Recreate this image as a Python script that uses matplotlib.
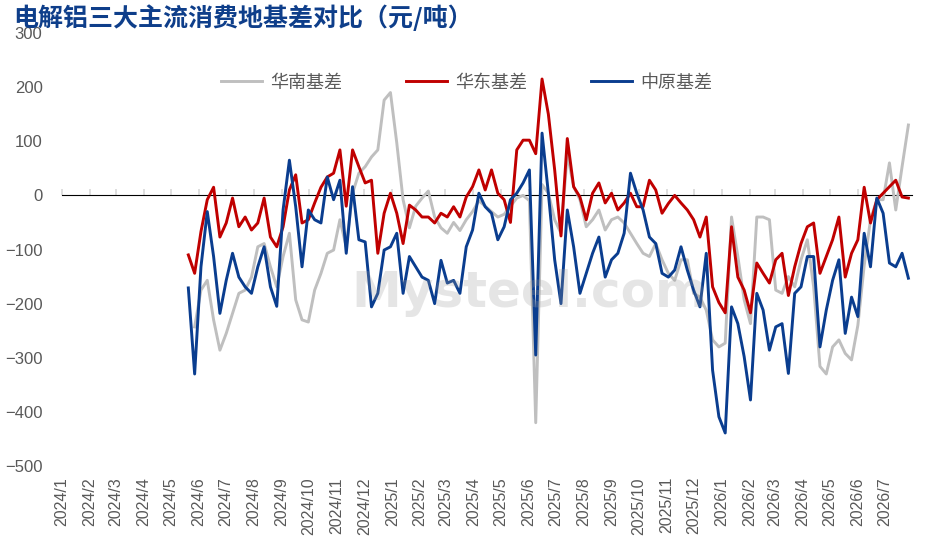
import numpy as np
import pandas as pd
import matplotlib
matplotlib.use("Agg")
import matplotlib.pyplot as plt
import matplotlib.dates as mdates
from matplotlib.ticker import FuncFormatter, MultipleLocator, NullFormatter

plt.rcParams['font.family'] = ['Noto Sans CJK SC', 'DejaVu Sans']

# weekly readings, starting late May 2024
dates = pd.date_range('2024-05-20', periods=115, freq='7D')

south = [np.nan, -243, -175, -157, -230, -286, -255, -218, -181, -175,
         -151, -95, -89, -132, -169, -113, -70, -193, -230, -234,
         -175, -144, -107, -101, -45, -95, 4, 41, 53, 71,
         84, 176, 190, 97, -8, -60, -20, -5, 8, -40,
         -60, -70, -50, -65, -45, -30, -10, -20, -30, -40,
         -35, -20, -5, 0, -10, -420, 20, 4, -45, -70,
         77, 16, -8, -58, -45, -27, -64, -45, -40, -51,
         -70, -89, -107, -113, -89, -119, -144, -157, -119, -119,
         -181, -188, -212, -267, -280, -273, -40, -113, -193, -237,
         -40, -40, -45, -175, -181, -150, -169, -119, -82, -169,
         -316, -330, -280, -267, -292, -304, -240, -130, -45, -8,
         -8, 60, -27, 53, 130]

east = [-110, -144, -67, -8, 15, -77, -51, -5, -58, -40,
        -64, -51, -5, -77, -95, -58, 10, 38, -51, -45,
        -14, 15, 34, 41, 84, -20, 84, 53, 23, 28,
        -107, -33, 4, -33, -89, -18, -27, -40, -40, -51,
        -33, -40, -21, -40, -3, 16, 47, 10, 47, 4,
        -8, -50, 84, 102, 102, 77, 215, 150, 47, -75,
        105, 16, -3, -45, 4, 23, -14, 4, -27, -14,
        4, -21, -21, 28, 10, -33, -15, 0, -14, -27,
        -45, -77, -40, -169, -198, -217, -58, -151, -175, -217,
        -125, -144, -162, -119, -107, -185, -132, -89, -58, -51,
        -144, -113, -82, -40, -151, -107, -82, 15, -51, -8,
        4, 16, 28, -3, -5]

central = [-171, -330, -132, -30, -113, -218, -157, -107, -151, -169,
           -181, -132, -95, -169, -205, -27, 65, -21, -132, -27,
           -45, -51, 34, -8, 28, -107, 16, -82, -86, -206,
           -181, -101, -95, -70, -181, -113, -132, -151, -157, -200,
           -120, -162, -157, -181, -95, -64, 4, -21, -33, -82,
           -58, -8, 4, 23, 47, -295, 115, 4, -119, -200,
           -27, -95, -181, -144, -107, -77, -151, -119, -107, -70,
           41, 4, -27, -77, -89, -144, -151, -138, -95, -138,
           -175, -206, -107, -323, -409, -439, -206, -237, -298, -378,
           -181, -212, -286, -243, -237, -329, -181, -169, -113, -113,
           -280, -212, -157, -119, -255, -188, -224, -70, -132, -5,
           -33, -125, -132, -107, -153]

labels = ['华南基差', '华东基差', '中原基差']
colors = ['#BFBFBF', '#C00000', '#0A3D8F']

fig = plt.figure(figsize=(9.41, 5.46), dpi=100)
ax = fig.add_axes([62 / 941, 1 - 466 / 546, 850 / 941, 433 / 546])

for series, name, c in zip([south, east, central], labels, colors):
    ax.plot(dates, series, color=c, lw=2.1, label=name, zorder=3)

ax.set_ylim(-500, 300)
ax.set_xlim(pd.Timestamp('2024-01-01'), pd.Timestamp('2026-07-31'))
ax.yaxis.set_major_locator(MultipleLocator(100))

for s in ax.spines.values():
    s.set_visible(False)

ax.xaxis.set_major_locator(mdates.MonthLocator())
ax.xaxis.set_major_formatter(FuncFormatter(
    lambda v, p: f"{mdates.num2date(v).year}/{mdates.num2date(v).month}"))
ax.tick_params(axis='x', length=0, pad=8, labelrotation=90, labelsize=11.5,
               labelcolor='#595959')
ax.tick_params(axis='y', length=0, pad=14, labelsize=12, labelcolor='#595959')
for t in ax.get_xticklabels() + ax.get_yticklabels():
    t.set_fontfamily(['Liberation Sans', 'DejaVu Sans'])

# zero line with month tick marks
zero = ax.secondary_xaxis(500 / 800)
zero.xaxis.set_major_locator(mdates.MonthLocator())
zero.xaxis.set_major_formatter(NullFormatter())
zero.tick_params(axis='x', direction='out', length=4, width=1.2,
                 color='#D9D9D9', labelbottom=False, labeltop=False)
zero.spines['bottom'].set_color('#D9D9D9')
zero.spines['bottom'].set_linewidth(1.6)
zero.spines['bottom'].set_zorder(1)

leg = ax.legend(loc='center', bbox_to_anchor=(0.476, 0.885), ncol=3,
                frameon=False, fontsize=13, handlelength=2.3,
                handletextpad=0.45, columnspacing=3.5)
for t in leg.get_texts():
    t.set_color('#595959')

ax.text(0.55, 0.40, 'Mysteel.com', transform=ax.transAxes, fontsize=36,
        fontweight='bold', color='#9A9A9A', alpha=0.25, ha='center',
        va='center', zorder=4, family='DejaVu Sans')

fig.text(13 / 941, 1 - 18 / 546, '电解铝三大主流消费地基差对比（元/吨）',
         fontsize=18, fontweight='bold', color='#0E3E8A', va='center',
         ha='left')

fig.savefig('out.png', dpi=100)
